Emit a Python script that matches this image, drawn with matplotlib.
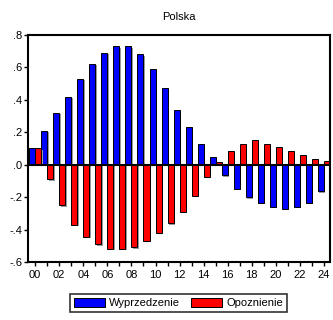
import numpy as np
import matplotlib
matplotlib.use('Agg')
import matplotlib.pyplot as plt
import matplotlib.patheffects as pe

plt.rcParams['font.family'] = ['Liberation Sans', 'DejaVu Sans']

# dane: korelacje dla opoznien 0..24
lags = list(range(25))
wyprzedzenie = [0.10, 0.21, 0.32, 0.42, 0.53, 0.62, 0.69, 0.73, 0.73, 0.68,
                0.59, 0.47, 0.34, 0.23, 0.13, 0.05, -0.065, -0.15, -0.20, -0.236,
                -0.26, -0.27, -0.26, -0.236, -0.165]
opoznienie = [0.10, -0.09, -0.25, -0.37, -0.445, -0.49, -0.52, -0.52, -0.51, -0.47,
              -0.42, -0.36, -0.29, -0.19, -0.075, 0.015, 0.086, 0.13, 0.15, 0.13,
              0.11, 0.086, 0.06, 0.036, 0.024]
ytick_vals = [-0.6, -0.4, -0.2, 0.0, 0.2, 0.4, 0.6, 0.8]
ytick_labels = ['-.6', '-.4', '-.2', '.0', '.2', '.4', '.6', '.8']

fig = plt.figure(figsize=(3.33, 3.20), dpi=100)
ax = fig.add_axes([0.084, 0.181, 0.907, 0.710])

x = np.array(lags)
shadow = [pe.SimplePatchShadow(offset=(1, -1), shadow_rgbFace='#9a9a9a', alpha=1.0), pe.Normal()]
b1 = ax.bar(x - 0.25, wyprzedzenie, width=0.5, color='#0000ff', edgecolor='black',
            linewidth=0.7, label='Wyprzedzenie', zorder=2)
b2 = ax.bar(x + 0.25, opoznienie, width=0.5, color='#ff0000', edgecolor='black',
            linewidth=0.7, label='Opoznienie', zorder=2)
for p in list(b1) + list(b2):
    p.set_path_effects(shadow)

ax.axhline(0, color='black', linewidth=1.5, zorder=3)

ax.set_xlim(-0.6, 24.5)
ax.set_ylim(-0.6, 0.8)
ax.set_yticks(ytick_vals)
ax.set_yticklabels(ytick_labels)
ax.set_xticks(x)
ax.set_xticklabels(['%02d' % v if v % 2 == 0 else '' for v in lags])
ax.tick_params(axis='both', direction='out', length=3, width=1, labelsize=8, pad=1)
ax.tick_params(axis='x', pad=3)
for s in ax.spines.values():
    s.set_linewidth(1.5)

ax.set_title('Polska', fontsize=8, pad=11)

leg = fig.legend(handles=[b1, b2], loc='center', bbox_to_anchor=(0.536, 0.053), ncol=2,
                 fontsize=8, frameon=True, fancybox=False, handlelength=2.8,
                 handleheight=0.9, handletextpad=0.4, columnspacing=1.0,
                 borderpad=0.3, borderaxespad=0)
leg.get_frame().set_edgecolor('black')
leg.get_frame().set_linewidth(1.2)
for h in leg.legend_handles:
    h.set_path_effects([])

fig.savefig('out.png', dpi=100)
